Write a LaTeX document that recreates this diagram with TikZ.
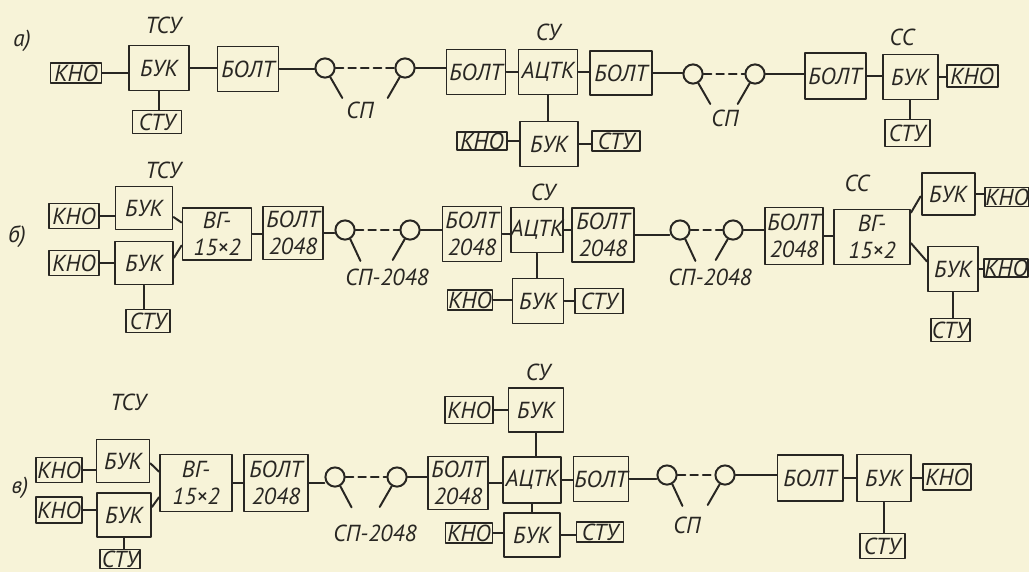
\documentclass[tikz,border=0pt]{standalone}
\usepackage{fontspec}
\setmainfont{PT Sans}
\definecolor{paper}{RGB}{247,243,216}
\definecolor{ink}{RGB}{40,38,34}
\tikzset{
  blk/.style={draw=ink, line width=1.4pt, inner sep=0pt, text=ink, align=center},
  sz/.style 2 args={minimum width=#1*0.025cm, minimum height=#2*0.025cm},
  sp/.style={circle, draw=ink, line width=1.4pt, inner sep=0pt, minimum size=0.48cm},
  lbl/.style={text=ink, inner sep=0pt},
  wire/.style={ink, line width=1.4pt},
  link/.style={ink, line width=1.4pt, dash pattern=on 5.5pt off 3.5pt}
}
\begin{document}
\begin{tikzpicture}[line cap=round,line join=round,x=0.025cm,y=-0.025cm,
    every node/.append style={font=\fontsize{16.5}{19}\selectfont\itshape}]
  \fill[paper] (0,0) rectangle (1029,572);
  \useasboundingbox (0,0) rectangle (1029,572);
  % --- a)
  \node[lbl] (la) at (22,41) {а)};
  \node[lbl] (a_tsu) at (163,25) {ТСУ};
  \node[blk,sz={51}{20}] (a_kno1) at (76,73) {КНО};
  \node[blk,sz={60}{45}] (a_buk1) at (159,68) {БУК};
  \node[blk,sz={49}{23}] (a_stu1) at (157,122) {СТУ};
  \node[blk,sz={61}{45}] (a_bolt1) at (248,69) {БОЛТ};
  \node[sp] (a_sp1) at (325,68) {};
  \node[sp] (a_sp2) at (405,68) {};
  \node[lbl] (a_spl1) at (360,110) {СП};
  \node[lbl] (a_su) at (548,32) {СУ};
  \node[blk,sz={59}{45}] (a_bolt2) at (476,72) {БОЛТ};
  \node[blk,sz={59}{45}] (a_actk) at (548,72) {АЦТК};
  \node[blk,sz={62}{44}] (a_bolt3) at (621,73) {БОЛТ};
  \node[blk,sz={50}{18}] (a_kno2) at (482,141) {КНО};
  \node[blk,sz={58}{45}] (a_buk2) at (549,144) {БУК};
  \node[blk,sz={48}{20}] (a_stu2) at (616,141) {СТУ};
  \node[sp] (a_sp3) at (693,74) {};
  \node[sp] (a_sp4) at (755,74) {};
  \node[lbl] (a_spl2) at (725,118) {СП};
  \node[lbl] (a_cc) at (902,37) {СС};
  \node[blk,sz={61}{46}] (a_bolt4) at (835,76) {БОЛТ};
  \node[blk,sz={55}{45}] (a_buk3) at (910,77) {БУК};
  \node[blk,sz={51}{22}] (a_kno3) at (972,76) {КНО};
  \node[blk,sz={45}{27}] (a_stu3) at (907,133) {СТУ};
  \draw[wire] (a_kno1.east) -- (a_kno1.east -| a_buk1.west);
  \draw[wire] (a_buk1.south) -- (a_buk1.south |- a_stu1.north);
  \draw[wire] (a_buk1.east) -- (a_buk1.east -| a_bolt1.west);
  \draw[wire] (a_bolt1.east) -- (a_bolt1.east -| a_sp1.west);
  \draw[link] (a_sp1) -- (a_sp2);
  \draw[wire] (a_sp1.-60) -- +(-60:0.6cm);
  \draw[wire] (a_sp2.-120) -- +(-120:0.6cm);
  \draw[wire] (a_sp2.east) -- (a_sp2.east -| a_bolt2.west);
  \draw[wire] (a_bolt2.east) -- (a_bolt2.east -| a_actk.west);
  \draw[wire] (a_actk.east) -- (a_actk.east -| a_bolt3.west);
  \draw[wire] (a_actk.south) -- (a_actk.south |- a_buk2.north);
  \draw[wire] (a_kno2.east) -- (a_kno2.east -| a_buk2.west);
  \draw[wire] (a_buk2.east) -- (a_buk2.east -| a_stu2.west);
  \draw[wire] (a_bolt3.east) -- (a_bolt3.east -| a_sp3.west);
  \draw[link] (a_sp3) -- (a_sp4);
  \draw[wire] (a_sp3.-60) -- +(-60:0.6cm);
  \draw[wire] (a_sp4.-120) -- +(-120:0.6cm);
  \draw[wire] (a_sp4.east) -- (a_sp4.east -| a_bolt4.west);
  \draw[wire] (a_bolt4.east) -- (a_bolt4.east -| a_buk3.west);
  \draw[wire] (a_buk3.east) -- (a_buk3.east -| a_kno3.west);
  \draw[wire] (a_buk3.south) -- (a_buk3.south |- a_stu3.north);
  % --- b)
  \node[lbl] (lb) at (17,237) {б)};
  \node[lbl] (b_tsu) at (163,170) {ТСУ};
  \node[blk,sz={50}{25}] (b_kno1) at (74,216) {КНО};
  \node[blk,sz={57}{43}] (b_buk1) at (144,208) {БУК};
  \node[blk,sz={50}{25}] (b_kno2) at (74,263) {КНО};
  \node[blk,sz={58}{43}] (b_buk2) at (144,263) {БУК};
  \node[blk,sz={44}{23}] (b_stu2) at (148,321) {СТУ};
  \node[blk,sz={69}{52}] (b_vg1) at (217,234) {ВГ-\\15×2};
  \node[blk,sz={60}{53}] (b_bolt1) at (293,233) {БОЛТ\\2048};
  \node[sp] (b_sp1) at (345,230) {};
  \node[sp] (b_sp2) at (410,230) {};
  \node[lbl] (b_spl1) at (387,277) {СП-2048};
  \node[lbl] (b_su) at (543,192) {СУ};
  \node[blk,sz={59}{55}] (b_bolt2) at (472,234) {БОЛТ\\2048};
  \node[blk,sz={49}{45}] (b_actk) at (537,230) {АЦТК};
  \node[blk,sz={62}{54}] (b_bolt3) at (603,235) {БОЛТ\\2048};
  \node[blk,sz={45}{20}] (b_kno3) at (470,300) {КНО};
  \node[blk,sz={51}{45}] (b_buk3) at (538,301) {БУК};
  \node[blk,sz={48}{25}] (b_stu3) at (599,301) {СТУ};
  \node[sp] (b_sp3) at (680,230) {};
  \node[sp] (b_sp4) at (733,230) {};
  \node[lbl] (b_spl2) at (710,277) {СП-2048};
  \node[lbl] (b_cc) at (857,183) {СС};
  \node[blk,sz={58}{57}] (b_bolt4) at (794,236) {БОЛТ\\2048};
  \node[blk,sz={76}{55}] (b_vg2) at (872,237) {ВГ-\\15×2};
  \node[blk,sz={53}{42}] (b_buk4) at (948,194) {БУК};
  \node[blk,sz={41}{19}] (b_kno4) at (1007,197) {КНО};
  \node[blk,sz={50}{45}] (b_buk5) at (953,269) {БУК};
  \node[blk,sz={42}{18}] (b_kno5) at (1006,268) {КНО};
  \node[blk,sz={39}{23}] (b_stu5) at (950,330) {СТУ};
  \draw[wire] (b_kno1.east) -- (b_kno1.east -| b_buk1.west);
  \draw[wire] (b_kno2.east) -- (b_kno2.east -| b_buk2.west);
  \draw[wire] (b_buk2.south) -- (b_buk2.south |- b_stu2.north);
  \draw[wire] (b_buk1.-17) -- (b_vg1.162);
  \draw[wire] (b_buk2.10) -- (b_vg1.198);
  \draw[wire] (b_vg1.east) -- (b_vg1.east -| b_bolt1.west);
  \draw[wire] (b_bolt1.east) -- (b_bolt1.east -| b_sp1.west);
  \draw[link] (b_sp1) -- (b_sp2);
  \draw[wire] (b_sp1.-60) -- +(-65:0.6cm);
  \draw[wire] (b_sp2.-120) -- +(-120:0.6cm);
  \draw[wire] (b_sp2.east) -- (b_sp2.east -| b_bolt2.west);
  \draw[wire] (b_bolt2.east) -- (b_bolt2.east -| b_actk.west);
  \draw[wire] (b_actk.east) -- (b_actk.east -| b_bolt3.west);
  \draw[wire] (b_actk.south) -- (b_actk.south |- b_buk3.north);
  \draw[wire] (b_kno3.east) -- (b_kno3.east -| b_buk3.west);
  \draw[wire] (b_buk3.east) -- (b_buk3.east -| b_stu3.west);
  \draw[wire] (b_bolt3.east) -- (b_bolt3.east -| b_sp3.west);
  \draw[link] (b_sp3) -- (b_sp4);
  \draw[wire] (b_sp3.-60) -- +(-65:0.6cm);
  \draw[wire] (b_sp4.-120) -- +(-120:0.6cm);
  \draw[wire] (b_sp4.east) -- (b_sp4.east -| b_bolt4.west);
  \draw[wire] (b_bolt4.east) -- (b_bolt4.east -| b_vg2.west);
  \draw[wire] (b_vg2.32) -- (b_buk4.185);
  \draw[wire] (b_vg2.-9) -- (b_buk5.164);
  \draw[wire] (b_buk4.east) -- (b_buk4.east -| b_kno4.west);
  \draw[wire] (b_buk5.east) -- (b_buk5.east -| b_kno5.west);
  \draw[wire] (b_buk5.south) -- (b_buk5.south |- b_stu5.north);
  % --- c)
  \node[lbl] (lc) at (20,488) {в)};
  \node[lbl] (c_tsu) at (128,402) {ТСУ};
  \node[blk,sz={46}{25}] (c_kno1) at (59,470) {КНО};
  \node[blk,sz={53}{43}] (c_buk1) at (123,461) {БУК};
  \node[blk,sz={46}{26}] (c_kno2) at (59,510) {КНО};
  \node[blk,sz={54}{44}] (c_buk2) at (124,515) {БУК};
  \node[blk,sz={40}{19}] (c_stu2) at (120,559) {СТУ};
  \node[blk,sz={72}{57}] (c_vg1) at (196,483) {ВГ-\\15×2};
  \node[blk,sz={64}{57}] (c_bolt1) at (276,483) {БОЛТ\\2048};
  \node[sp] (c_sp1) at (335,477) {};
  \node[sp] (c_sp2) at (397,477) {};
  \node[lbl] (c_spl1) at (375,533) {СП-2048};
  \node[lbl] (c_su) at (538,372) {СУ};
  \node[blk,sz={48}{27}] (c_kno3) at (469,410) {КНО};
  \node[blk,sz={55}{44}] (c_buk3) at (536,410) {БУК};
  \node[blk,sz={60}{53}] (c_bolt2) at (458,483) {БОЛТ\\2048};
  \node[blk,sz={58}{46}] (c_actk) at (532,480) {АЦТК};
  \node[blk,sz={55}{45}] (c_bolt3) at (601,479) {БОЛТ};
  \node[blk,sz={47}{20}] (c_kno4) at (469,533) {КНО};
  \node[blk,sz={56}{44}] (c_buk4) at (532,535) {БУК};
  \node[blk,sz={47}{20}] (c_stu4) at (600,532) {СТУ};
  \node[sp] (c_sp3) at (667,475) {};
  \node[sp] (c_sp4) at (725,475) {};
  \node[lbl] (c_spl2) at (687,525) {СП};
  \node[blk,sz={65}{46}] (c_bolt4) at (810,478) {БОЛТ};
  \node[blk,sz={54}{47}] (c_buk5) at (884,478) {БУК};
  \node[blk,sz={48}{26}] (c_kno5) at (947,477) {КНО};
  \node[blk,sz={45}{25}] (c_stu5) at (882,546) {СТУ};
  \draw[wire] (c_kno1.east) -- (c_kno1.east -| c_buk1.west);
  \draw[wire] (c_kno2.east) -- (c_kno2.east -| c_buk2.west);
  \draw[wire] (c_buk2.south) -- (c_buk2.south |- c_stu2.north);
  \draw[wire] (c_buk1.-5) -- (c_vg1.163);
  \draw[wire] (c_buk2.16) -- (c_vg1.201);
  \draw[wire] (c_vg1.east) -- (c_vg1.east -| c_bolt1.west);
  \draw[wire] (c_bolt1.east) -- (c_bolt1.east -| c_sp1.west);
  \draw[link] (c_sp1) -- (c_sp2);
  \draw[wire] (c_sp1.-60) -- +(-62:0.6cm);
  \draw[wire] (c_sp2.-120) -- +(-120:0.6cm);
  \draw[wire] (c_sp2.east) -- (c_sp2.east -| c_bolt2.west);
  \draw[wire] (c_bolt2.east) -- (c_bolt2.east -| c_actk.west);
  \draw[wire] (c_actk.east) -- (c_actk.east -| c_bolt3.west);
  \draw[wire] (c_kno3.east) -- (c_kno3.east -| c_buk3.west);
  \draw[wire] (c_buk3.south) -- (c_buk3.south |- c_actk.north);
  \draw[wire] (c_actk.south) -- (c_actk.south |- c_buk4.north);
  \draw[wire] (c_kno4.east) -- (c_kno4.east -| c_buk4.west);
  \draw[wire] (c_buk4.east) -- (c_buk4.east -| c_stu4.west);
  \draw[wire] (c_bolt3.east) -- (c_bolt3.east -| c_sp3.west);
  \draw[link] (c_sp3) -- (c_sp4);
  \draw[wire] (c_sp3.-60) -- +(-65:0.6cm);
  \draw[wire] (c_sp4.-120) -- +(-120:0.6cm);
  \draw[wire] (c_sp4.east) -- (c_sp4.east -| c_bolt4.west);
  \draw[wire] (c_bolt4.east) -- (c_bolt4.east -| c_buk5.west);
  \draw[wire] (c_buk5.east) -- (c_buk5.east -| c_kno5.west);
  \draw[wire] (c_buk5.south) -- (c_buk5.south |- c_stu5.north);
\end{tikzpicture}
\end{document}
